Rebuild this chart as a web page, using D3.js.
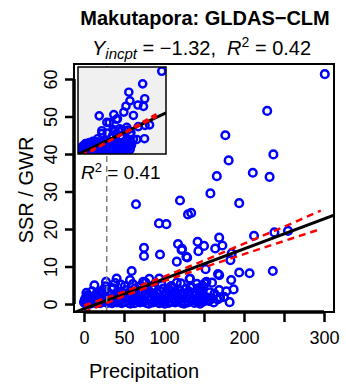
<!DOCTYPE html>
<html>
<head>
<meta charset="utf-8">
<script src="https://cdn.jsdelivr.net/npm/d3@7"></script>
<style>
  body { margin: 0; background: #fff; }
  svg { display: block; font-family: "Liberation Sans", Arial, sans-serif; }
</style>
</head>
<body>
<div id="chart"></div>
<script>
// scattered points [precipitation, SSR/GWR]
const points = [
  [301,61.3],[229,51.5],[176.7,45],[236.7,39.9],[180.8,38.3],[211,35],[232,33.9],[166,34.1],
  [158,29.5],[194,26.9],[120,27.6],[130,23.9],[134,24.3],[65,26.6],[93.7,21.5],[103,21.3],
  [212.5,18.2],[238,19.1],[255,19.5],[169,17.7],[173,15.6],[164,14.8],[142,16.6],[150,15.5],
  [143,14.1],[122.5,14.7],[117.5,16],[129,12.4],[116,11.3],[75,15],[75,12.8],[95,13.2],
  [183,11.7],[184.6,13.5],[152,9.3],[194,8.4],[207,8.2],[236,8.8],[169,7.7],[167.5,8.0],
  [184,6.4],[132,6.7],[187,3.9],[169,3.7],[59.6,8.8],[40.8,6.8],[27.5,5.9],[22,3.3],
  [36.7,4.2],[46,5.2],[57.5,6.4],[74,5.9],[81.7,6.7],[94,6.8],[105,3.9],[116,5.7],
  [143,4.2],[3.3,1.5],[160,5.7],[151,5.5],[146,3.7],[157.5,3.1],[162,0.4],[182,0.5],
  [170,1.8],[153,1.8],[143,1.1],[145,3.3],[153,5.9],[149,4.6],[157,1.1],[149,0.6],
  [170,1.6],[132.5,6.8],[128,12.6],[122,14.4]
];
// dense cluster at low precipitation
const cluster = [
  [1,0.3],[3,0.8],[5,0.2],[7,0.6],[9,0.4],[12,0.9],[14,0.3],[17,0.7],[20,0.2],[23,0.5],
  [26,0.9],[29,0.3],[32,0.6],[35,0.2],[38,0.8],[41,0.4],[44,0.7],[47,0.2],[50,0.5],[53,0.9],
  [56,0.3],[60,0.6],[63,0.2],[67,0.8],[70,0.4],[74,0.6],[78,0.3],[82,0.9],[86,0.4],[90,0.7],
  [94,0.2],[98,0.5],[102,0.8],[106,0.3],[110,0.6],[114,0.4],[118,0.9],[122,0.3],[126,0.6],
  [130,0.4],[134,0.8],[138,0.3],[142,0.5],[147,0.7],
  [2,1.6],[4,2.3],[6,1.4],[8,2.0],[11,1.5],[15,2.4],[18,1.7],[22,1.3],[25,2.2],[28,1.8],
  [31,1.4],[34,2.5],[37,1.6],[40,2.1],[43,1.4],[46,2.4],[49,1.7],[52,1.3],[55,2.2],[58,1.6],
  [62,2.5],[65,1.4],[69,2.0],[72,1.5],[76,2.3],[80,1.7],[84,1.3],[88,2.4],[92,1.8],[96,1.4],
  [100,2.2],[104,1.6],[108,2.5],[112,1.5],[116,2.0],[120,1.4],[124,2.3],[128,1.7],[132,2.1],
  [136,1.4],[140,2.4],[144,1.8],
  [3,3.0],[10,3.4],[16,2.9],[24,3.8],[30,3.1],[36,4.0],[42,3.3],[48,2.9],[54,3.7],[59,3.2],
  [64,4.2],[68,3.0],[73,3.6],[79,4.4],[83,3.1],[87,3.9],[91,2.9],[95,3.5],[99,4.1],[103,3.0],
  [107,3.7],[111,4.3],[115,3.2],[119,3.8],[123,2.9],[127,4.0],[131,3.4],[135,4.4],[139,3.1],
  [143,3.6],[148,2.9],
  [13,5.0],[27,4.7],[39,5.6],[51,4.8],[61,5.3],[71,4.9],[77,5.7],[85,4.6],[97,5.2],[109,4.8],
  [121,5.5],[133,4.7],[141,5.4],[148,4.9],
  [0,0.5],[1,1.2],[2,0.1],[4,1.0],[6,0.9],[150,1.0],[156,0.8],[160,1.6],[163,2.8],[167,1.2],
  [175,1.9],[178,3.4],
  [8,0.1],[19,1.1],[33,1.0],[45,1.1],[58,0.1],[66,1.1],[81,0.1],[89,1.1],[101,0.1],[113,1.1],
  [125,0.1],[137,1.1],[145,0.1],[21,2.8],[45,3.0],[57,2.7],[77,2.9],[93,2.7],[113,2.8],[129,2.7]
];

// main fit
const fitIntercept = -1.32, fitSlope = 0.08;
// red dashed band
const ciX     = [0, 50, 100, 150, 200, 250, 296];
const ciUpper = [-0.4, 3.3, 7.3, 11.6, 16.1, 20.6, 24.9];
const ciLower = [-2.2, 2.1, 6.1, 9.8, 13.3, 16.8, 20.0];
// inset fit
const insetIntercept = -1.87, insetSlope = 0.097;
const insetRedA = [[-1, -5.2], [282, 28.0]];
const insetRedB = [[-1, -4.0], [282, 26.0]];
const cutX = 28.4;

const xTicks = [0, 50, 100, 150, 200, 250, 300];
const xTickLabels = ["0", "50", "100", "", "200", "", "300"];
const yTicks = [0, 10, 20, 30, 40, 50, 60];

const width = 346, height = 389;
const svg = d3.select("#chart").append("svg")
  .attr("width", width).attr("height", height);

const x = d3.scaleLinear().domain([-12.5, 312.5]).range([74, 334]);
const y = d3.scaleLinear().domain([-2.13, 64]).range([312, 64]);

const allPts = cluster.concat(points);

svg.append("clipPath").attr("id", "mainClip")
  .append("rect").attr("x", 74).attr("y", 64).attr("width", 260).attr("height", 248);

const plot = svg.append("g").attr("clip-path", "url(#mainClip)");

plot.selectAll("circle.pt")
  .data(allPts)
  .enter()
  .append("circle")
  .attr("class", "pt")
  .attr("cx", d => x(d[0]))
  .attr("cy", d => y(d[1]))
  .attr("r", 3.8)
  .attr("fill", "none")
  .attr("stroke", "#0000ff")
  .attr("stroke-width", 2.5);

const line = d3.line().x(d => x(d[0])).y(d => y(d[1]));

plot.append("path")
  .attr("d", line([[-12.5, fitIntercept + fitSlope * -12.5], [312.5, fitIntercept + fitSlope * 312.5]]))
  .attr("stroke", "#000").attr("stroke-width", 3).attr("fill", "none");

[ciUpper, ciLower].forEach(arr => {
  plot.append("path")
    .attr("d", line(ciX.map((v, i) => [v, arr[i]])))
    .attr("stroke", "#ff0000").attr("stroke-width", 2.5)
    .attr("stroke-dasharray", "7,5").attr("fill", "none");
});

plot.append("path")
  .attr("d", line([[cutX, -2.13], [cutX, 64]]))
  .attr("stroke", "#808080").attr("stroke-width", 1.5)
  .attr("stroke-dasharray", "6,4").attr("fill", "none");

// box
svg.append("rect").attr("x", 74).attr("y", 64).attr("width", 260).attr("height", 248)
  .attr("fill", "none").attr("stroke", "#000").attr("stroke-width", 2);

// inset
const xi = d3.scaleLinear().domain([-15, 317]).range([78, 166]);
const yi = d3.scaleLinear().domain([-3.1, 64.6]).range([154, 67]);
svg.append("clipPath").attr("id", "insetClip")
  .append("rect").attr("x", 78).attr("y", 67).attr("width", 88).attr("height", 87);
svg.append("rect").attr("x", 78).attr("y", 67).attr("width", 88).attr("height", 87)
  .attr("fill", "#f0f0f0");
const inset = svg.append("g").attr("clip-path", "url(#insetClip)");
inset.selectAll("circle")
  .data(allPts)
  .enter()
  .append("circle")
  .attr("cx", d => xi(d[0]))
  .attr("cy", d => yi(d[1]))
  .attr("r", 3.6)
  .attr("fill", "none")
  .attr("stroke", "#0000ff")
  .attr("stroke-width", 2.4);
const lineI = d3.line().x(d => xi(d[0])).y(d => yi(d[1]));
inset.append("path")
  .attr("d", lineI([[-15, insetIntercept + insetSlope * -15], [317, insetIntercept + insetSlope * 317]]))
  .attr("stroke", "#000").attr("stroke-width", 3).attr("fill", "none");
[insetRedA, insetRedB].forEach(seg => {
  inset.append("path").attr("d", lineI(seg))
    .attr("stroke", "#ff0000").attr("stroke-width", 2.5)
    .attr("stroke-dasharray", "6,4").attr("fill", "none");
});
svg.append("rect").attr("x", 78).attr("y", 67).attr("width", 88).attr("height", 87)
  .attr("fill", "none").attr("stroke", "#000").attr("stroke-width", 1.5);

// inset R2
const r2 = svg.append("text").attr("x", 81).attr("y", 179)
  .attr("font-size", 19).attr("fill", "#000");
r2.append("tspan").attr("font-style", "italic").text("R");
r2.append("tspan").attr("font-size", 13).attr("dy", -7).text("2");
r2.append("tspan").attr("dy", 7).text("\u00a0= 0.41");

// axes
const xAxis = svg.append("g").attr("transform", "translate(0,312)")
  .call(d3.axisBottom(x).tickValues(xTicks).tickSize(10).tickSizeOuter(0)
    .tickFormat((d, i) => xTickLabels[i]));
xAxis.select(".domain").remove();
xAxis.selectAll(".tick line").attr("stroke-width", 2.5);
xAxis.selectAll(".tick text").attr("font-size", 18).attr("fill", "#000")
  .attr("font-family", "Liberation Sans, Arial, sans-serif").attr("y", 19);
xAxis.append("path").attr("d", `M${x(0)},0H${x(300)}`).attr("stroke", "#000").attr("stroke-width", 3.5);

const yAxis = svg.append("g").attr("transform", "translate(74,0)")
  .call(d3.axisLeft(y).tickValues(yTicks).tickSize(9).tickSizeOuter(0));
yAxis.select(".domain").remove();
yAxis.selectAll(".tick line").attr("stroke-width", 2.5);
yAxis.selectAll(".tick text")
  .attr("font-size", 18).attr("fill", "#000")
  .attr("font-family", "Liberation Sans, Arial, sans-serif")
  .attr("x", 0).attr("y", -17).attr("dy", 0)
  .attr("text-anchor", "middle")
  .attr("transform", "rotate(-90)");
yAxis.append("path").attr("d", `M0,${y(0)}V${y(60)}`).attr("stroke", "#000").attr("stroke-width", 3.5);

// labels
svg.append("text").attr("x", 144).attr("y", 378).attr("text-anchor", "middle")
  .attr("font-size", 20).text("Precipitation");
svg.append("text").attr("transform", "translate(33,190) rotate(-90)")
  .attr("text-anchor", "middle").attr("font-size", 20).text("SSR / GWR");

svg.append("text").attr("x", 205).attr("y", 25).attr("text-anchor", "middle")
  .attr("font-size", 20).attr("font-weight", "bold").text("Makutapora: GLDAS\u2212CLM");

const sub = svg.append("text").attr("x", 92).attr("y", 55).attr("font-size", 20);
sub.append("tspan").attr("font-style", "italic").text("Y");
sub.append("tspan").attr("font-style", "italic").attr("font-size", 15).attr("dy", 4).text("incpt");
sub.append("tspan").attr("dy", -4).text("\u00a0= \u22121.32,\u00a0\u00a0");
sub.append("tspan").attr("font-style", "italic").text("R");
sub.append("tspan").attr("font-size", 14).attr("dy", -8).text("2");
sub.append("tspan").attr("dy", 8).text("\u00a0= 0.42");
</script>
</body>
</html>
